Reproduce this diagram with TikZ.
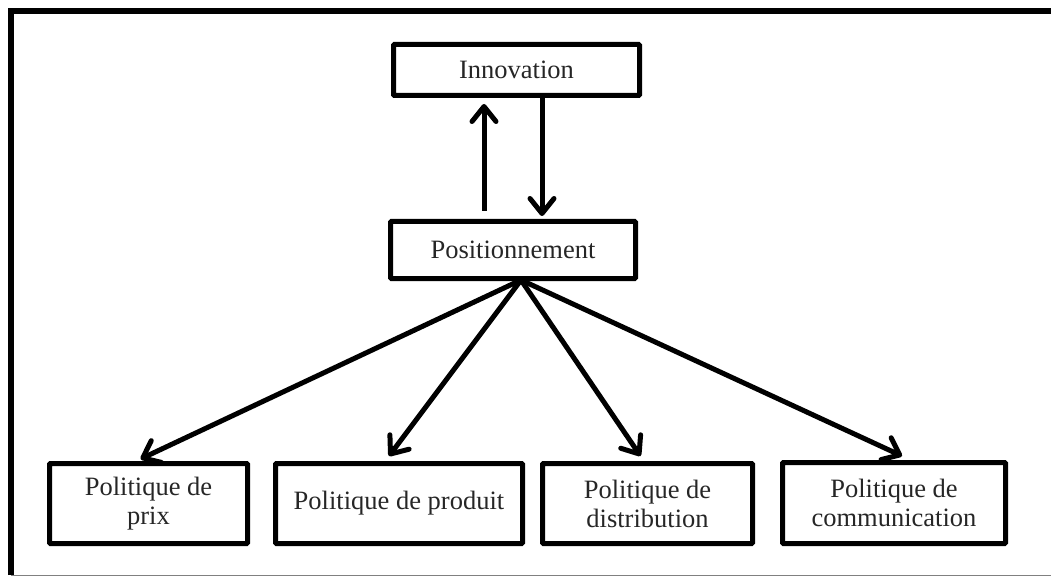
\documentclass[tikz,border=0pt]{standalone}
\usepackage{fontspec}
\setmainfont{Liberation Serif}
\usetikzlibrary{arrows.meta}
\begin{document}
\begin{tikzpicture}[x=1pt,y=-1pt,
  box/.style={draw=black,line width=5pt,rectangle,rounded corners=1pt,inner sep=0pt,
    align=center,font=\fontsize{26.5}{29}\selectfont,text=black!85},
  arr/.style={line width=5pt,-{Straight Barb[length=15pt,width=24pt,round]}}]
\useasboundingbox (0,0) rectangle (1051,577);
% frame
\draw[line width=6pt] (11,575) -- (11,11) -- (1051,11);
\draw[line width=1.5pt,black!50] (11,575.5) -- (1051,575.5);
% nodes
\node[box,minimum width=246pt,minimum height=51pt] (inn) at (516.5,70) {Innovation};
\node[box,minimum width=245pt,minimum height=57pt] (pos) at (513,250) {Positionnement};
\node[box,minimum width=198pt,minimum height=80pt] (prix) at (148.5,503.5) {Politique de\\prix};
\node[box,minimum width=247pt,minimum height=80pt] (prod) at (399,503.5) {Politique de produit};
\node[box,minimum width=210pt,minimum height=80pt] (dist) at (647.5,503.5) {Politique de\\distribution};
\node[box,minimum width=223pt,minimum height=81pt] (comm) at (894,503) {Politique de\\communication};
% vertical arrows
\draw[arr] ([xshift=-29pt,yshift=8pt]pos.north) -- ([xshift=-32.5pt,yshift=-6pt]inn.south);
\draw[arr] ([xshift=25.5pt]inn.south) -- ([xshift=29pt,yshift=3pt]pos.north);
% fan
\coordinate (fan) at ([xshift=8pt,yshift=1pt]pos.south);
\draw[arr] (fan) -- ([xshift=-8pt,yshift=2pt]prix.north);
\draw[arr] (fan) -- ([xshift=-10pt,yshift=5pt]prod.north);
\draw[arr] (fan) -- ([xshift=-7pt,yshift=5pt]dist.north);
\draw[arr] (fan) -- ([xshift=8pt,yshift=4pt]comm.north);
\end{tikzpicture}
\end{document}
